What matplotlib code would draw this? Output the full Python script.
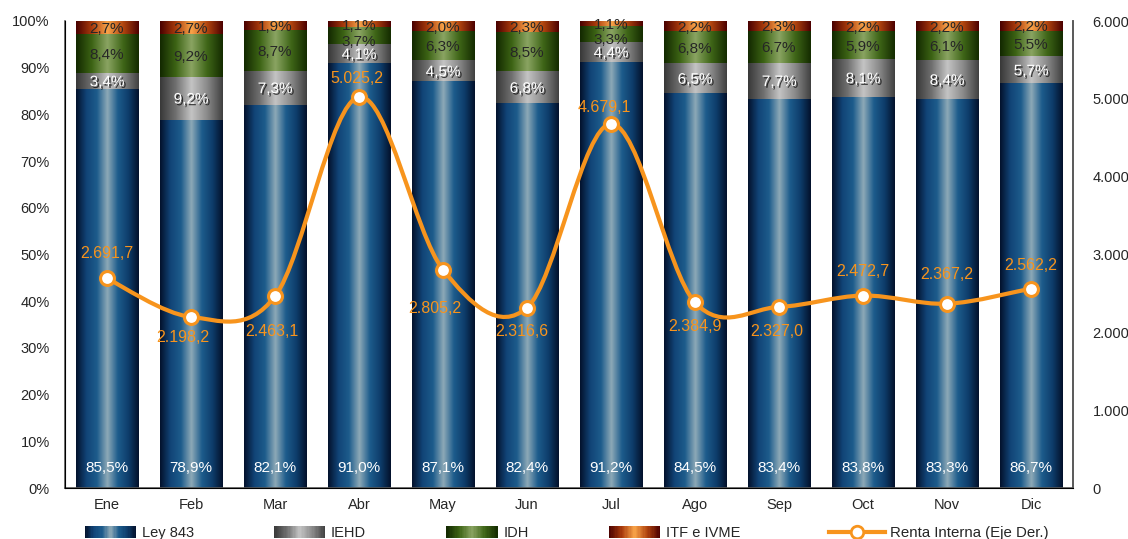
import numpy as np
import matplotlib
matplotlib.use("Agg")
import matplotlib.pyplot as plt
import matplotlib.patheffects as pe
from matplotlib.colors import LinearSegmentedColormap
from matplotlib.patches import Rectangle, PathPatch
from matplotlib.path import Path
from matplotlib.lines import Line2D
from matplotlib.legend_handler import HandlerBase
from matplotlib.ticker import FuncFormatter

plt.rcParams['font.family'] = ['Liberation Sans', 'DejaVu Sans']

months = ["Ene", "Feb", "Mar", "Abr", "May", "Jun",
          "Jul", "Ago", "Sep", "Oct", "Nov", "Dic"]
ley843 = [85.5, 78.9, 82.1, 91.0, 87.1, 82.4, 91.2, 84.5, 83.4, 83.8, 83.3, 86.7]
iehd = [3.4, 9.2, 7.3, 4.1, 4.5, 6.8, 4.4, 6.5, 7.7, 8.1, 8.4, 5.7]
idh = [8.4, 9.2, 8.7, 3.7, 6.3, 8.5, 3.3, 6.8, 6.7, 5.9, 6.1, 5.5]
itf = [2.7, 2.7, 1.9, 1.1, 2.0, 2.3, 1.1, 2.2, 2.3, 2.2, 2.2, 2.2]
renta = [2691.7, 2198.2, 2463.1, 5025.2, 2805.2, 2316.6,
         4679.1, 2384.9, 2327.0, 2472.7, 2367.2, 2562.2]

# label offsets for the line values (pixels)
lbl_dy = [26, -19, -34, 20, -37, -22, 18, -23, -23, 26, 31, 25]
lbl_dx = [0, -8, -3, -2, -8, -5, -7, 0, -2, 0, 0, 0]

ORANGE = '#F7941D'
TXT = '#262626'

cmaps = {
    'Ley 843': LinearSegmentedColormap.from_list('ley', ['#03112b', '#114477', '#1d5c8c', '#8da9b7', '#1d5c8c', '#0e3d6b', '#03112b']),
    'IEHD': LinearSegmentedColormap.from_list('iehd', ['#383838', '#707070', '#c4c4c4', '#8a8a8a', '#404040']),
    'IDH': LinearSegmentedColormap.from_list('idh', ['#122800', '#3c6314', '#8aa462', '#3f6618', '#142b00']),
    'ITF e IVME': LinearSegmentedColormap.from_list('itf', ['#480000', '#a83a0c', '#f9a449', '#b1450f', '#4c0000']),
}


def fmt(v, dec=1):
    s = f"{v:,.{dec}f}"
    return s.replace(',', 'X').replace('.', ',').replace('X', '.')


class GradHandler(HandlerBase):
    def __init__(self, cmap):
        super().__init__()
        self.cmap = cmap

    def create_artists(self, legend, orig, xd, yd, w, h, fs, trans):
        n = 40
        arts = []
        for i in range(n):
            arts.append(Rectangle((-xd + w * i / n, -yd), w / n * 1.1, h,
                                  facecolor=self.cmap((i + 0.5) / n),
                                  edgecolor='none', transform=trans))
        return arts


fig = plt.figure(figsize=(11.28, 5.39), dpi=100)
ax = fig.add_axes([65 / 1128, 1 - 488 / 539, (1073 - 65) / 1128, (488 - 21) / 539])
x = np.arange(len(months))
width = 0.74
grad = np.linspace(0, 1, 256).reshape(1, -1)

bottom = np.zeros(len(months))
series = [('Ley 843', ley843), ('IEHD', iehd), ('IDH', idh), ('ITF e IVME', itf)]
for name, vals in series:
    vals = np.array(vals)
    bars = ax.bar(x, vals, width, bottom=bottom, facecolor='none', edgecolor='none')
    for b in bars:
        x0, y0 = b.get_x(), b.get_y()
        ax.imshow(grad, cmap=cmaps[name], aspect='auto', interpolation='bilinear',
                  extent=(x0, x0 + b.get_width(), y0, y0 + b.get_height()), zorder=1)
    for i, v in enumerate(vals):
        if name == 'Ley 843':
            ax.annotate(fmt(v) + '%', (x[i], 0), xytext=(0, 21), textcoords='offset pixels',
                        ha='center', va='center_baseline', color='white', fontsize=11, zorder=3)
        elif name == 'IEHD':
            ax.text(x[i], bottom[i] + v / 2, fmt(v) + '%', ha='center', va='center_baseline',
                    color='white', fontsize=11, zorder=3,
                    path_effects=[pe.SimplePatchShadow(offset=(1.2, -1.2), shadow_rgbFace='k', alpha=0.7),
                                  pe.Normal()])
        else:
            dy = -5 if (name == 'IDH' and v < 4) else 0
            ax.annotate(fmt(v) + '%', (x[i], bottom[i] + v / 2), xytext=(0, dy),
                        textcoords='offset pixels', ha='center', va='center_baseline',
                        color=TXT, fontsize=11, zorder=3)
    bottom += vals

ax.set_xlim(-0.5, len(months) - 0.5)
ax.set_ylim(0, 100)
ax.set_xticks(x)
ax.set_xticklabels(months)
ax.set_yticks(np.arange(0, 101, 10))
ax.yaxis.set_major_formatter(FuncFormatter(lambda v, p: f"{int(v)}%"))
ax.tick_params(axis='both', length=0, labelsize=10.5, colors=TXT)
ax.tick_params(axis='y', pad=11)
ax.tick_params(axis='x', pad=7)
ax.spines['top'].set_visible(False)
for s in ['left', 'bottom', 'right']:
    ax.spines[s].set_color('#595959')
    ax.spines[s].set_linewidth(1.2)

ax2 = ax.twinx()
ax2.set_ylim(0, 6000)
ax2.set_yticks(np.arange(0, 6001, 1000))
ax2.yaxis.set_major_formatter(FuncFormatter(lambda v, p: fmt(v, 0)))
ax2.tick_params(axis='y', length=0, labelsize=10.5, colors=TXT, pad=14)
ax2.spines['top'].set_visible(False)
ax2.spines['right'].set_color('#595959')
ax2.spines['right'].set_linewidth(1.2)

# smoothed line (Catmull-Rom as cubic bezier)
pts = np.column_stack([x, renta]).astype(float)
ext = np.vstack([pts[0], pts, pts[-1]])
verts = [tuple(pts[0])]
codes = [Path.MOVETO]
for i in range(len(pts) - 1):
    p0, p1, p2, p3 = ext[i], ext[i + 1], ext[i + 2], ext[i + 3]
    c1 = p1 + (p2 - p0) / 6
    c2 = p2 - (p3 - p1) / 6
    verts += [tuple(c1), tuple(c2), tuple(p2)]
    codes += [Path.CURVE4] * 3
ax2.add_patch(PathPatch(Path(verts, codes), facecolor='none', edgecolor=ORANGE, lw=3, zorder=4))
ax2.plot(x, renta, 'o', ls='none', ms=10, mfc='white', mec=ORANGE, mew=2.2, zorder=5)
for i, v in enumerate(renta):
    ax2.annotate(fmt(v), (x[i], v), xytext=(lbl_dx[i], lbl_dy[i]), textcoords='offset pixels',
                 ha='center', va='center_baseline', color=ORANGE, fontsize=11.5, zorder=6)

handles = [Rectangle((0, 0), 1, 1) for _ in series]
fig.legend(handles, [n for n, _ in series], loc='center left',
           bbox_to_anchor=(85 / 1128, 1 - 533 / 539), ncol=4, frameon=False,
           handler_map={h: GradHandler(cmaps[n]) for h, (n, _) in zip(handles, series)},
           handlelength=3.5, handleheight=0.85, handletextpad=0.4, columnspacing=5.5,
           borderpad=0, borderaxespad=0, fontsize=10.5, labelcolor=TXT)
line_h = Line2D([], [], color=ORANGE, lw=3, marker='o', ms=9, mfc='white', mec=ORANGE, mew=2)
fig.legend([line_h], ['Renta Interna (Eje Der.)'], loc='center left',
           bbox_to_anchor=(829 / 1128, 1 - 533 / 539), frameon=False,
           handlelength=3.7, handletextpad=0.35, borderpad=0, borderaxespad=0,
           fontsize=10.8, labelcolor=TXT)

fig.savefig('out.png', dpi=100)
